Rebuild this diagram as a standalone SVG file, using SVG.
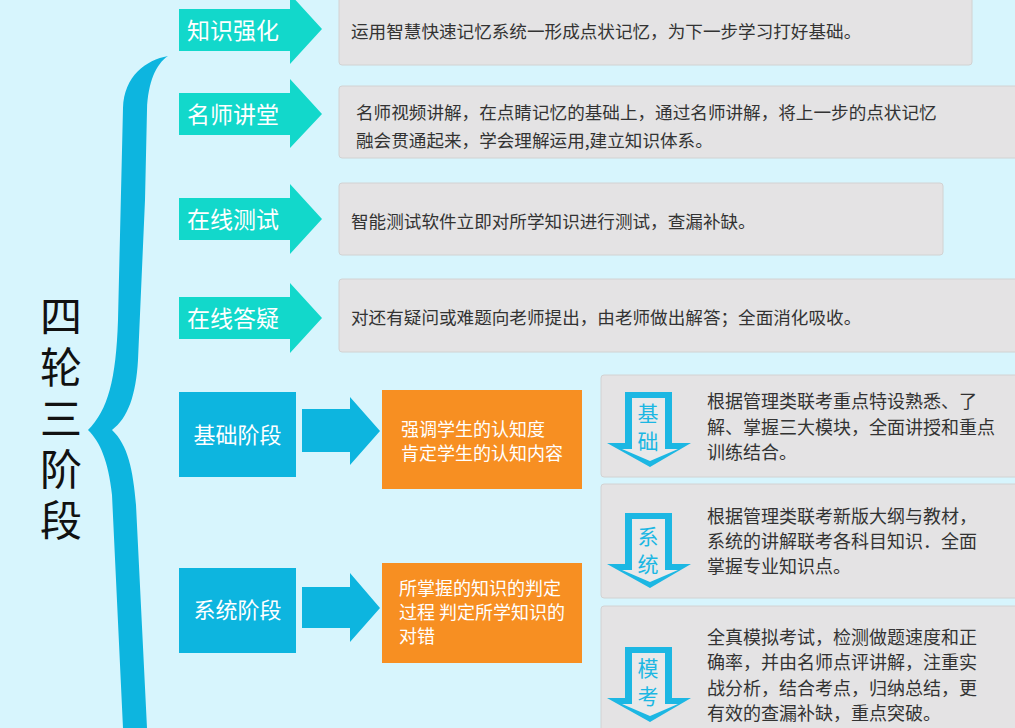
<svg xmlns="http://www.w3.org/2000/svg" width="1015" height="728" viewBox="0 0 1015 728">
<style>
.cn{font-family:"Noto Sans CJK SC","Noto Sans",sans-serif}
.desc{font-size:17.6px;fill:#333333}
.desc2{font-size:18px;fill:#333333}
.lab{font-size:23px;fill:#ffffff}
.blab{font-size:22px;fill:#ffffff}
.olab{font-size:18px;fill:#ffffff}
.ilab{font-size:21px;fill:#1cb7e3;text-anchor:middle}
.gbox{fill:#e4e3e4;stroke:#d2d2d2;stroke-width:1}
.teal{fill:#12d8cb}
.blue{fill:#0db5df}
.orange{fill:#f78f22}
.icon-o{fill:#1cb7e3}
.icon-i{fill:#e9e9ea}
</style>
<defs>
<g id="dicon">
<polygon class="icon-o" points="625,392 672,392 672,443 691,443 650,467 607,443 625,443"/>
<polygon class="icon-i" points="632,398 665,398 665,449 678,449 650,461 622,449 632,449"/>
</g>
</defs>
<rect x="0" y="0" width="1015" height="728" fill="#d7f5fd"/>

<g id="title">
<path fill="#0db5df" d="M168,56 C146,60 124,76 123,108 L118,320 C116,380 108,410 88,430 C100,442 108,460 112,495 L123,728 L147,728 L136,505 C133,470 128,445 112,430 C128,418 136,395 138,360 L145,200 L147,110 C148,82 156,64 168,56 Z"/>
<text class="cn" x="61" y="295" font-size="42" fill="#111111" writing-mode="vertical-rl" letter-spacing="9">四轮三阶段</text>
</g>

<g id="node-zhishi">
<polygon class="teal" points="179,9 290,9 290,-6 322,29 290,64 290,51 179,51"/>
<text class="cn lab" x="187" y="38.5">知识强化</text>
<rect class="gbox" x="339" y="-5" width="633" height="70" rx="3"/>
<text class="cn desc" x="351" y="38">运用智慧快速记忆系统一形成点状记忆，为下一步学习打好基础。</text>
</g>

<g id="node-mingshi">
<polygon class="teal" points="179,93 290,93 290,79 322,114 290,148 290,135 179,135"/>
<text class="cn lab" x="187" y="123">名师讲堂</text>
<rect class="gbox" x="339" y="86" width="690" height="72" rx="3"/>
<text class="cn desc" x="356" y="119">名师视频讲解，在点睛记忆的基础上，通过名师讲解，将上一步的点状记忆</text>
<text class="cn desc" x="356" y="147">融会贯通起来，学会理解运用,建立知识体系。</text>
</g>

<g id="node-ceshi">
<polygon class="teal" points="179,198 290,198 290,184 322,219 290,254 290,240 179,240"/>
<text class="cn lab" x="187" y="227.5">在线测试</text>
<rect class="gbox" x="339" y="183" width="604" height="72" rx="3"/>
<text class="cn desc" x="351" y="228">智能测试软件立即对所学知识进行测试，查漏补缺。</text>
</g>

<g id="node-dayi">
<polygon class="teal" points="179,297 290,297 290,283 322,318 290,353 290,339 179,339"/>
<text class="cn lab" x="187" y="326.5">在线答疑</text>
<rect class="gbox" x="339" y="279" width="690" height="73" rx="3"/>
<text class="cn desc" x="351" y="324">对还有疑问或难题向老师提出，由老师做出解答；全面消化吸收。</text>
</g>

<g id="node-jichu">
<rect class="blue" x="179" y="392" width="117" height="85"/>
<text class="cn blab" x="237.5" y="443" text-anchor="middle">基础阶段</text>
</g>
<g id="node-jichu-desc">
<rect class="orange" x="382" y="390" width="200" height="99"/>
<text class="cn olab" x="401" y="436">强调学生的认知度</text>
<text class="cn olab" x="401" y="460">肯定学生的认知内容</text>
</g>

<g id="node-xitong">
<rect class="blue" x="179" y="568" width="117" height="85"/>
<text class="cn blab" x="237.5" y="618" text-anchor="middle">系统阶段</text>
</g>
<g id="node-xitong-desc">
<rect class="orange" x="382" y="563" width="200" height="100"/>
<text class="cn olab" x="399" y="595">所掌握的知识的判定</text>
<text class="cn olab" x="399" y="619">过程 判定所学知识的</text>
<text class="cn olab" x="399" y="643">对错</text>
</g>

<g id="node-a">
<rect class="gbox" x="601" y="375" width="430" height="102" rx="3"/>
<use href="#dicon"/>
<text class="cn ilab" x="648" y="421">基</text>
<text class="cn ilab" x="648" y="449">础</text>
<text class="cn desc2" x="707" y="408">根据管理类联考重点特设熟悉、了</text>
<text class="cn desc2" x="707" y="434">解、掌握三大模块，全面讲授和重点</text>
<text class="cn desc2" x="707" y="459">训练结合。</text>
</g>

<g id="node-b">
<rect class="gbox" x="601" y="484" width="430" height="114" rx="3"/>
<use href="#dicon" transform="translate(0,121)"/>
<text class="cn ilab" x="648" y="544">系</text>
<text class="cn ilab" x="648" y="572">统</text>
<text class="cn desc2" x="707" y="523">根据管理类联考新版大纲与教材，</text>
<text class="cn desc2" x="707" y="548">系统的讲解联考各科目知识．全面</text>
<text class="cn desc2" x="707" y="573">掌握专业知识点。</text>
</g>

<g id="node-c">
<rect class="gbox" x="601" y="606" width="430" height="140" rx="3"/>
<use href="#dicon" transform="translate(0,255)"/>
<text class="cn ilab" x="648" y="676">模</text>
<text class="cn ilab" x="648" y="704">考</text>
<text class="cn desc2" x="707" y="644">全真模拟考试，检测做题速度和正</text>
<text class="cn desc2" x="707" y="669">确率，并由名师点评讲解，注重实</text>
<text class="cn desc2" x="707" y="695">战分析，结合考点，归纳总结，更</text>
<text class="cn desc2" x="707" y="720">有效的查漏补缺，重点突破。</text>
</g>

<g id="connectors">
<polygon class="blue" points="302,409 350,409 350,397 380,431 350,465 350,452 302,452"/>
<polygon class="blue" points="302,587 350,587 350,573 380,608 350,642 350,628 302,628"/>
</g>
</svg>
